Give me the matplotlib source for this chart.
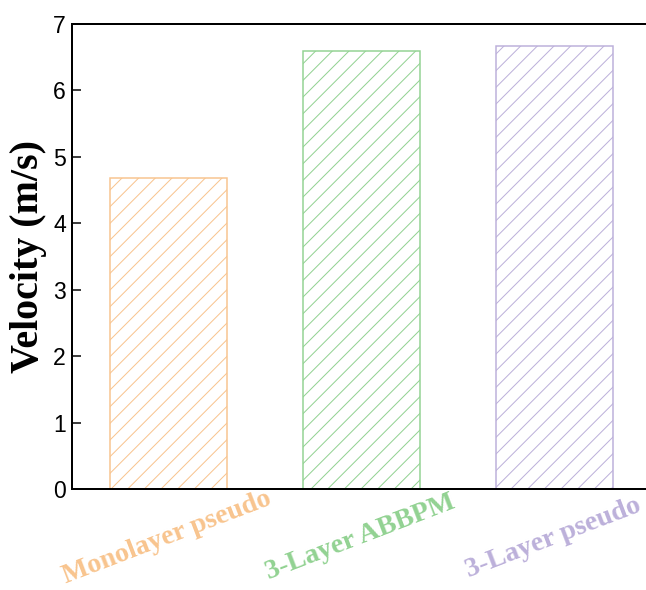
import matplotlib.pyplot as plt
from matplotlib.transforms import ScaledTranslation

# --- data ---
categories = ['Monolayer pseudo', '3-Layer ABBPM', '3-Layer pseudo']
velocity = [4.68, 6.59, 6.67]
colors = ['#F8C48E', '#92D292', '#BCB0DA']

DPI = 100
PX = 72 / DPI  # points per pixel

plt.rcParams['hatch.linewidth'] = 1.0 * PX

fig = plt.figure(figsize=(646 / DPI, 590 / DPI), dpi=DPI)
ax = fig.add_axes([72 / 646, 101 / 590, 579 / 646, 465 / 590])

x = range(len(categories))
bars = ax.bar(x, velocity, width=0.605, facecolor='white',
              edgecolor=colors, linewidth=1.5 * PX, hatch='//')

ax.set_xlim(-0.5, 2.5)
ax.set_ylim(0, 7)
ax.set_yticks(range(0, 8))

# tick styling
ax.tick_params(axis='y', direction='in', length=9 * PX, width=1.5 * PX,
               labelsize=23 * PX, pad=6 * PX)
for lbl in ax.get_yticklabels():
    lbl.set_family('Liberation Sans')
ax.set_xticks(list(x))
ax.set_xticklabels(categories, rotation=21, ha='center', rotation_mode='anchor',
                   family='Liberation Serif', fontweight='bold', fontsize=28 * PX)
ax.tick_params(axis='x', length=0, pad=37 * PX)
shift = ScaledTranslation(-6 / DPI, 0, fig.dpi_scale_trans)
for lbl, c in zip(ax.get_xticklabels(), colors):
    lbl.set_color(c)
    lbl.set_transform(lbl.get_transform() + shift)

for side in ['left', 'bottom', 'top']:
    ax.spines[side].set_linewidth(2 * PX)
ax.spines['right'].set_visible(False)

ax.set_ylabel('Velocity (m/s)', family='Liberation Serif', fontweight='bold',
              fontsize=40 * PX, labelpad=6 * PX)

fig.savefig('out.png', dpi=DPI)
